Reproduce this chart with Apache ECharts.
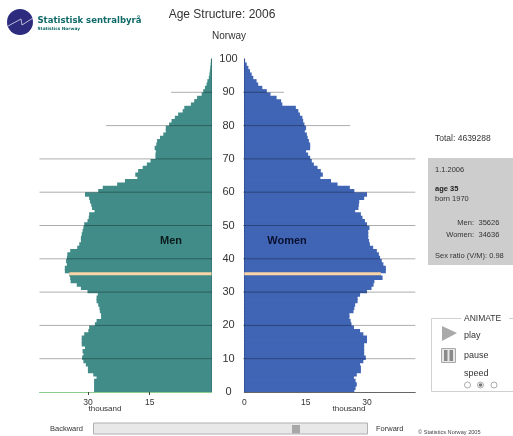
<!DOCTYPE html>
<html>
<head>
<meta charset="utf-8">
<style>html,body{margin:0;padding:0;background:#fff}#c{width:513px;height:436px}</style>
<script src="https://cdn.jsdelivr.net/npm/echarts@6/dist/echarts.min.js"></script>
</head>
<body>
<div id="c"></div>
<script>
// thousands of people per one-year age band, age 0 upward
const men = [28.5,28.5,28.5,28.5,27.9,28.7,30.0,30.0,30.5,31.1,
  31.4,31.1,31.3,30.7,31.5,31.5,31.5,30.9,29.9,29.7,
  28.3,27.9,26.8,26.8,27.1,27.2,27.5,27.9,27.9,27.6,
  30.1,31.7,32.7,34.2,34.3,34.5,35.6,35.6,35.1,35.3,
  35.1,35.0,34.3,32.6,32.1,31.7,31.7,31.5,31.3,31.1,
  30.9,30.1,29.8,29.7,28.4,29.0,29.2,29.5,29.7,30.7,
  27.5,26.4,22.9,21.0,18.0,18.5,17.8,16.7,15.7,14.8,
  13.6,13.6,13.5,13.8,13.4,13.2,12.5,11.7,11.1,11.1,
  10.3,9.7,8.9,8.1,7.0,6.6,5.0,4.2,3.5,2.4,
  2.0,1.6,1.2,1.0,0.65,0.5,0.4,0.3,0.2,0.15];
const women = [26.9,27.2,27.5,27.2,26.8,27.5,28.5,28.5,28.3,29.1,
  29.7,29.3,29.3,29.3,29.3,30.0,30.0,29.1,28.3,26.8,
  26.2,26.0,25.7,25.7,26.7,26.9,27.1,27.7,27.7,28.3,
  30.0,31.1,31.6,31.8,33.8,33.4,34.6,34.6,34.0,33.6,
  33.2,32.9,32.4,31.5,30.7,30.5,30.3,30.3,30.3,30.6,
  30.0,29.5,28.9,28.5,27.1,27.9,28.0,28.1,29.3,30.0,
  26.9,25.8,22.8,21.2,18.6,19.2,18.7,17.9,17.0,16.5,
  16.1,15.6,15.1,16.1,16.1,15.8,15.5,15.3,14.8,15.1,
  14.7,14.4,14.2,13.6,13.2,12.6,9.3,9.0,7.9,6.4,
  5.5,4.4,3.4,3.0,2.2,1.8,1.4,1.0,0.6,0.2];
const ages = men.map((_, i) => String(i));
const highlightAge = 35;
const valueTicks = [0, 15, 30];
const ageTicks = [0,10,20,30,40,50,60,70,80,90,100];
const refAges = [10,20,30,40,50,60,70,80,90];
const refLenMen = [41.75,41.75,41.75,41.75,41.75,41.75,41.75,25.6,9.8];
const refLenWomen = [41.8,41.8,41.8,41.8,41.8,41.8,41.8,25.9,9.7];

const MEN = '#418c88', WOMEN = '#4065b5', HI = '#fbd5a8';
const font = '"Liberation Sans", Arial, sans-serif';
const hiOnly = vals => vals.map((v, i) => i === highlightAge ? v : null);
const refSeries = (ax, lens, stub) => refAges.map((a, i) => ({
  type: 'line', xAxisIndex: ax, yAxisIndex: ax * 2 + 1, silent: true, clip: false, z: 5,
  showSymbol: false, symbol: 'none', animation: false,
  lineStyle: {width: 1, color: 'rgba(0,0,0,0.32)'},
  data: [[stub, a], [lens[i], a]]
}));
const valueAxis = (idx, inverse, max, lineCol, tickShow) => ({
  type: 'value', gridIndex: idx, min: 0, max, inverse, position: 'bottom',
  splitLine: {show: false},
  axisLine: {show: true, onZero: false, lineStyle: {color: lineCol, width: 1}},
  axisTick: {show: tickShow, length: 3, customValues: [15, 30], lineStyle: {color: '#444'}},
  axisLabel: {customValues: inverse ? valueTicks.slice(1) : valueTicks, margin: 6, fontSize: 8.5, color: '#333', fontFamily: font, hideOverlap: false, showMinLabel: true}
});
const catAxis = (idx, pos, lineCol) => ({
  type: 'category', gridIndex: idx, data: ages, position: pos,
  axisLine: {show: true, onZero: false, lineStyle: {color: lineCol, width: 1}},
  axisTick: {show: false}, axisLabel: {show: false}, splitLine: {show: false}
});
const ageAxis = (idx, pos, show) => ({
  type: 'value', gridIndex: idx, min: 0, max: 100, interval: 10, position: pos,
  axisLine: {show: false}, axisTick: {show: false}, splitLine: {show: false},
  axisLabel: {show, margin: 17, fontSize: 11, color: '#333', fontFamily: font, align: 'center',
    customValues: ageTicks}
});
const t = (x, y, text, o = {}) => ({type: 'text', x, y, z: 50, silent: true, style: Object.assign(
  {text, fill: '#333', font: `${o.size || 8}px ${font}`, align: 'left', verticalAlign: 'middle'}, o.style || {})});

const graphic = [
  // logo
  {type: 'circle', shape: {cx: 20, cy: 22, r: 13}, style: {fill: '#2d2b7e'}, silent: true},
  {type: 'polyline', shape: {points: [[8, 26], [21, 19], [22, 25], [33, 18]]}, style: {stroke: '#dfe0ee', fill: null, lineWidth: 0.8}, silent: true},
  t(37.5, 21, 'Statistisk sentralbyrå', {style: {font: `bold 8.5px "DejaVu Sans", sans-serif`, fill: '#0f6a68'}}),
  t(37.5, 28.5, 'Statistics Norway', {style: {font: `bold 4.3px "DejaVu Sans", sans-serif`, fill: '#0f6a68'}}),
  // headings
  t(222, 14.5, 'Age Structure: 2006', {style: {font: `12px ${font}`, align: 'center'}}),
  t(229, 36, 'Norway', {style: {font: `10px ${font}`, align: 'center'}}),
  t(171, 241, 'Men', {style: {font: `bold 11px ${font}`, fill: '#0a1a1a', align: 'center'}}),
  t(287, 241, 'Women', {style: {font: `bold 11px ${font}`, fill: '#0a1030', align: 'center'}}),
  t(105, 409, 'thousand', {style: {font: `8px ${font}`, align: 'center'}}),
  t(349, 409, 'thousand', {style: {font: `8px ${font}`, align: 'center'}}),
  // info panel
  t(435, 138.5, 'Total: 4639288', {size: 8.5}),
  {type: 'rect', shape: {x: 428, y: 158, width: 85, height: 107}, style: {fill: '#cdcdcd'}, silent: true},
  t(435, 169.5, '1.1.2006', {size: 7.5}),
  t(435, 189, 'age 35', {style: {font: `bold 7.5px ${font}`, fill: '#222'}}),
  t(435, 199, 'born 1970', {size: 7.5}),
  t(474, 223, 'Men:', {style: {font: `7.5px ${font}`, fill: '#333', align: 'right'}}),
  t(474, 234.5, 'Women:', {style: {font: `7.5px ${font}`, fill: '#333', align: 'right'}}),
  t(478.5, 223, '35626', {size: 7.5}),
  t(478.5, 234.5, '34636', {size: 7.5}),
  t(435, 256, 'Sex ratio (V/M): 0.98', {size: 7.5}),
  // animate box
  {type: 'rect', shape: {x: 431.5, y: 318.5, width: 85, height: 73}, style: {fill: 'none', stroke: '#d0d0d0', lineWidth: 1}, silent: true},
  {type: 'rect', shape: {x: 461, y: 312, width: 48, height: 14}, style: {fill: '#fff'}, silent: true},
  t(464, 319, 'ANIMATE', {size: 8.5}),
  {type: 'polygon', shape: {points: [[442, 326], [457, 333], [442, 341]]}, style: {fill: '#a9a9a9'}, silent: true},
  t(464, 336, 'play', {size: 9}),
  {type: 'rect', shape: {x: 441.5, y: 348.5, width: 14, height: 14}, style: {fill: '#e6e6e6', stroke: '#aaa'}, silent: true},
  {type: 'rect', shape: {x: 444, y: 350, width: 3.5, height: 11}, style: {fill: '#8a8a8a'}, silent: true},
  {type: 'rect', shape: {x: 449.5, y: 350, width: 3.5, height: 11}, style: {fill: '#8a8a8a'}, silent: true},
  t(464, 355.5, 'pause', {size: 9}),
  t(464, 373.5, 'speed', {size: 9}),
  {type: 'circle', shape: {cx: 467.5, cy: 385, r: 3}, style: {fill: '#fff', stroke: '#888', lineWidth: 0.7}, silent: true},
  {type: 'circle', shape: {cx: 480.5, cy: 385, r: 3}, style: {fill: '#fff', stroke: '#888', lineWidth: 0.7}, silent: true},
  {type: 'circle', shape: {cx: 480.5, cy: 385, r: 1.8}, style: {fill: '#777'}, silent: true},
  {type: 'circle', shape: {cx: 494, cy: 385, r: 3}, style: {fill: '#fff', stroke: '#888', lineWidth: 0.7}, silent: true},
  // slider
  t(50, 428.5, 'Backward', {size: 7.5}),
  {type: 'rect', shape: {x: 93.5, y: 423, width: 274, height: 11}, style: {fill: '#e8e8e8', stroke: '#b0b0b0', lineWidth: 1}, silent: true},
  {type: 'rect', shape: {x: 292, y: 425, width: 8, height: 8.5}, style: {fill: '#a8a8a8'}, silent: true},
  t(376, 428.5, 'Forward', {size: 7.5}),
  t(418, 432.5, '© Statistics Norway 2005', {style: {font: `5.6px ${font}`, fill: '#444'}})
];

const baseBar = (ax, yi, vals, col) => ({type: 'bar', xAxisIndex: ax, yAxisIndex: yi, data: vals, barWidth: 4.4, barGap: '-100%', silent: true, z: 2, itemStyle: {color: col}});
const hiBar = (ax, yi, vals) => ({type: 'bar', xAxisIndex: ax, yAxisIndex: yi, data: hiOnly(vals), barWidth: 3, barGap: '-100%', silent: true, z: 3, itemStyle: {color: HI}});

const chart = echarts.init(document.getElementById('c'), null, {renderer: 'canvas'});
chart.setOption({
  animation: false,
  backgroundColor: '#fff',
  grid: [
    {left: 39.5, top: 59, width: 172, height: 333, containLabel: false},
    {left: 244.3, top: 59, width: 171, height: 333, containLabel: false}
  ],
  xAxis: [
    valueAxis(0, true, 41.75, '#8ccb8c', true),
    valueAxis(1, false, 41.8, '#666', false)
  ],
  yAxis: [
    catAxis(0, 'right', '#2a5f5d'),
    ageAxis(0, 'right', true),
    catAxis(1, 'left', '#0c1c4c'),
    ageAxis(1, 'left', false)
  ],
  series: [
    baseBar(0, 0, men, MEN),
    hiBar(0, 0, men),
    baseBar(1, 2, women, WOMEN),
    hiBar(1, 2, women),
    ...refSeries(0, refLenMen, -0.8),
    ...refSeries(1, refLenWomen, -1)
  ],
  graphic
});
</script>
</body>
</html>
